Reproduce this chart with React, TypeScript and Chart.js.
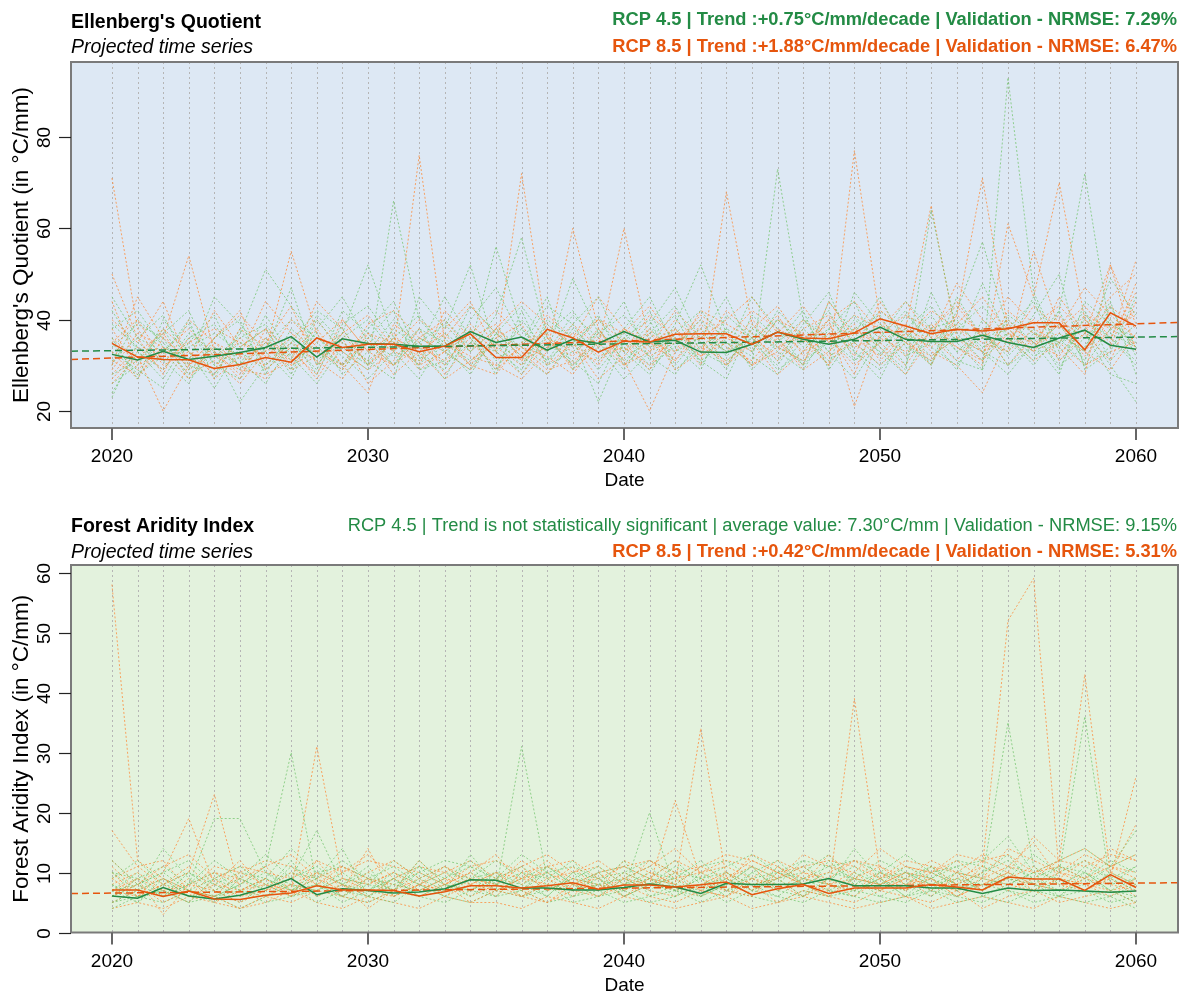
import React, { useEffect, useRef } from "react";
import { Chart, registerables } from "chart.js";
Chart.register(...registerables);

const FONT = '"Liberation Sans", Arial, sans-serif';

const years = [2020, 2021, 2022, 2023, 2024, 2025, 2026, 2027, 2028, 2029, 2030, 2031, 2032, 2033, 2034, 2035, 2036, 2037, 2038, 2039, 2040, 2041, 2042, 2043, 2044, 2045, 2046, 2047, 2048, 2049, 2050, 2051, 2052, 2053, 2054, 2055, 2056, 2057, 2058, 2059, 2060];
const decadeTicks = [2020, 2030, 2040, 2050, 2060];
const eqTicks = [20, 40, 60, 80];
const faiTicks = [0, 10, 20, 30, 40, 50, 60];

// ---------- Ellenberg's Quotient ----------
const eqMean45 = [32.4, 31.2, 33.1, 31.3, 32.0, 32.8, 33.9, 36.3, 31.8, 35.8, 34.8, 34.6, 34.2, 34.2, 37.4, 35.0, 36.2, 33.3, 35.7, 34.8, 37.4, 35.1, 35.5, 32.9, 32.8, 34.6, 37.3, 35.7, 34.6, 35.7, 38.4, 35.7, 35.2, 35.2, 36.6, 35.0, 33.9, 36.0, 37.7, 34.4, 33.5];
const eqMean85 = [34.8, 31.8, 31.3, 31.2, 29.3, 30.2, 31.7, 30.7, 36.0, 33.9, 34.6, 34.6, 33.0, 34.2, 36.9, 31.7, 31.7, 37.9, 36.0, 32.9, 35.3, 35.1, 36.8, 36.9, 36.9, 34.6, 37.3, 36.0, 35.8, 37.1, 40.2, 38.6, 36.9, 37.9, 37.5, 38.0, 39.3, 39.3, 33.4, 41.5, 38.6];
const eqTrend45 = [33.1, 36.3];
const eqTrend85 = [31.3, 39.4];

const eqG1 = [45, 36, 41, 30, 28, 37, 51, 43, 35, 30, 38, 44, 32, 29, 40, 47, 36, 31, 39, 45, 33, 28, 37, 42, 35, 30, 73, 40, 33, 27, 36, 44, 38, 31, 29, 93, 46, 34, 40, 36, 30];
const eqG2 = [24, 33, 27, 36, 39, 31, 26, 35, 42, 38, 30, 66, 40, 34, 28, 37, 43, 35, 31, 26, 38, 45, 34, 29, 41, 36, 31, 39, 46, 33, 27, 38, 43, 35, 48, 36, 31, 42, 72, 37, 34];
const eqG3 = [36, 27, 40, 33, 25, 34, 38, 29, 41, 35, 31, 27, 45, 38, 52, 33, 29, 40, 36, 22, 35, 42, 30, 37, 33, 45, 38, 30, 36, 41, 34, 29, 64, 37, 31, 40, 35, 28, 44, 39, 36];
const eqG4 = [30, 40, 35, 28, 33, 22, 30, 36, 28, 39, 43, 35, 30, 37, 33, 41, 58, 36, 30, 35, 29, 37, 43, 33, 30, 38, 35, 42, 29, 37, 45, 34, 31, 38, 43, 36, 30, 37, 33, 49, 41];
const eqG5 = [28, 31, 37, 42, 30, 35, 33, 27, 38, 45, 35, 30, 36, 33, 29, 37, 34, 43, 39, 31, 37, 32, 28, 36, 45, 33, 40, 35, 42, 31, 35, 38, 30, 45, 36, 33, 41, 50, 29, 33, 45];
const eqG6 = [33, 29, 25, 35, 41, 29, 35, 32, 26, 34, 30, 38, 34, 45, 36, 29, 40, 33, 49, 37, 41, 34, 36, 31, 27, 39, 33, 29, 38, 44, 32, 41, 36, 29, 40, 34, 45, 33, 37, 28, 26];
const eqG7 = [39, 34, 31, 26, 36, 40, 28, 38, 33, 29, 36, 42, 29, 31, 43, 37, 32, 28, 35, 40, 33, 39, 47, 35, 31, 36, 29, 33, 40, 35, 30, 36, 41, 33, 38, 30, 34, 39, 31, 43, 32];
const eqG8 = [31, 36, 33, 39, 30, 27, 34, 40, 36, 32, 27, 33, 38, 30, 35, 33, 38, 31, 36, 29, 36, 30, 34, 40, 32, 37, 34, 31, 35, 38, 41, 32, 35, 39, 34, 37, 32, 35, 38, 30, 22];
const eqG9 = [38, 42, 34, 31, 45, 39, 33, 47, 30, 37, 52, 36, 31, 40, 34, 56, 38, 33, 41, 36, 44, 31, 39, 52, 37, 33, 42, 36, 30, 46, 39, 35, 30, 42, 57, 38, 44, 31, 36, 40, 34];
const eqG10 = [26, 30, 38, 29, 34, 30, 41, 32, 37, 28, 33, 40, 34, 27, 38, 31, 35, 45, 29, 38, 31, 36, 41, 30, 38, 29, 35, 40, 36, 31, 38, 30, 46, 35, 29, 41, 37, 30, 34, 44, 28];
const eqG11 = [35, 28, 32, 40, 27, 38, 30, 35, 29, 42, 37, 30, 38, 35, 31, 36, 30, 39, 34, 41, 30, 38, 33, 36, 29, 41, 36, 30, 44, 37, 33, 28, 38, 40, 33, 30, 37, 35, 42, 31, 37];
const eqG12 = [42, 33, 29, 37, 33, 30, 36, 28, 40, 33, 29, 36, 41, 33, 37, 28, 42, 30, 38, 33, 36, 40, 29, 34, 38, 35, 30, 38, 33, 40, 36, 42, 34, 30, 37, 32, 38, 29, 41, 36, 31];
const eqG13 = [23, 35, 31, 34, 37, 33, 29, 34, 31, 36, 40, 33, 27, 36, 30, 35, 28, 37, 42, 34, 27, 33, 38, 31, 35, 32, 28, 36, 31, 35, 42, 37, 32, 36, 33, 28, 35, 42, 30, 38, 35];
const eqG14 = [34, 39, 36, 27, 32, 36, 39, 31, 34, 30, 35, 32, 35, 39, 33, 38, 34, 30, 33, 37, 34, 29, 35, 38, 33, 36, 40, 34, 38, 33, 29, 35, 39, 33, 36, 38, 33, 36, 30, 34, 39];

const eqO1 = [71, 38, 30, 33, 28, 36, 31, 40, 34, 29, 37, 33, 76, 35, 30, 38, 33, 28, 36, 40, 35, 29, 38, 33, 42, 37, 31, 36, 30, 77, 40, 35, 31, 39, 45, 37, 33, 40, 36, 43, 38];
const eqO2 = [30, 45, 36, 54, 33, 28, 36, 31, 44, 38, 30, 35, 32, 38, 44, 33, 72, 36, 30, 37, 33, 41, 36, 30, 68, 39, 34, 31, 37, 28, 42, 38, 35, 41, 71, 38, 33, 45, 37, 31, 44];
const eqO3 = [26, 32, 20, 30, 36, 42, 29, 34, 27, 36, 26, 31, 38, 28, 35, 30, 27, 33, 60, 38, 31, 20, 33, 38, 30, 35, 28, 33, 40, 21, 37, 32, 39, 34, 30, 61, 45, 70, 40, 35, 53];
const eqO4 = [38, 29, 34, 28, 31, 26, 33, 55, 37, 30, 36, 28, 33, 37, 30, 28, 35, 37, 29, 34, 60, 35, 31, 37, 33, 40, 35, 30, 44, 36, 32, 38, 65, 36, 31, 42, 37, 34, 28, 52, 39];
const eqO5 = [33, 27, 36, 31, 42, 34, 38, 30, 35, 40, 33, 37, 30, 42, 36, 39, 31, 38, 35, 30, 38, 33, 40, 35, 30, 38, 43, 35, 39, 32, 44, 36, 30, 41, 37, 33, 55, 38, 43, 36, 46];
const eqO6 = [28, 34, 29, 36, 27, 32, 30, 35, 31, 27, 35, 30, 34, 31, 36, 29, 34, 32, 28, 36, 33, 37, 31, 39, 34, 31, 38, 33, 36, 30, 35, 39, 33, 30, 24, 36, 40, 31, 37, 52, 33];
const eqO7 = [44, 30, 33, 27, 35, 30, 27, 33, 38, 30, 24, 39, 35, 30, 38, 33, 28, 35, 32, 38, 30, 35, 38, 32, 36, 33, 40, 37, 30, 38, 35, 30, 38, 44, 36, 40, 34, 39, 32, 38, 41];
const eqO8 = [36, 31, 38, 33, 29, 38, 34, 29, 32, 35, 31, 36, 29, 33, 39, 34, 30, 36, 33, 31, 36, 32, 35, 41, 37, 30, 33, 40, 35, 39, 31, 37, 34, 38, 33, 39, 35, 32, 40, 34, 48];
const eqO9 = [40, 35, 44, 30, 36, 41, 35, 43, 30, 37, 41, 34, 40, 36, 43, 37, 32, 41, 36, 45, 38, 34, 42, 36, 40, 45, 37, 43, 35, 41, 38, 44, 36, 48, 40, 35, 43, 38, 47, 41, 36];
const eqO10 = [27, 33, 37, 29, 33, 27, 38, 33, 28, 40, 33, 30, 36, 33, 29, 36, 39, 30, 35, 27, 32, 38, 29, 33, 37, 30, 36, 29, 33, 38, 34, 28, 36, 31, 38, 30, 36, 41, 33, 29, 37];
const eqO11 = [50, 36, 28, 40, 35, 32, 44, 37, 33, 30, 39, 42, 36, 40, 33, 38, 44, 39, 34, 40, 37, 43, 35, 40, 36, 42, 38, 35, 40, 44, 37, 41, 38, 43, 36, 45, 39, 43, 37, 45, 50];
const eqO12 = [31, 28, 33, 38, 32, 29, 28, 31, 36, 33, 29, 33, 31, 35, 32, 30, 34, 29, 31, 35, 30, 33, 36, 32, 35, 30, 34, 37, 32, 35, 30, 35, 32, 36, 33, 36, 31, 35, 30, 33, 35];
const eqO13 = [35, 40, 31, 35, 38, 35, 32, 36, 40, 33, 37, 35, 30, 33, 37, 42, 36, 33, 39, 34, 38, 35, 33, 42, 39, 36, 32, 38, 41, 35, 39, 36, 42, 38, 35, 33, 38, 35, 41, 38, 42];
const eqO14 = [29, 37, 34, 30, 34, 30, 35, 30, 33, 37, 30, 36, 33, 27, 31, 35, 31, 34, 37, 32, 34, 30, 37, 34, 31, 35, 41, 32, 37, 34, 36, 33, 37, 34, 31, 37, 35, 37, 33, 40, 34];

// ---------- Forest Aridity Index ----------
const faiMean45 = [6.1, 5.7, 7.5, 6.1, 5.6, 6.2, 7.4, 9.0, 6.3, 7.3, 7.0, 6.6, 6.75, 7.3, 8.8, 8.7, 7.4, 7.4, 7.1, 7.1, 7.5, 8.1, 7.6, 6.5, 8.2, 8.0, 8.0, 8.1, 9.0, 7.8, 7.8, 7.8, 7.4, 7.4, 6.5, 7.4, 7.0, 7.1, 6.9, 6.7, 6.9];
const faiMean85 = [7.1, 7.1, 6.0, 6.9, 5.6, 5.5, 6.2, 6.6, 7.8, 7.1, 7.1, 7.0, 6.1, 6.8, 7.8, 7.8, 7.4, 7.8, 8.3, 7.2, 7.9, 7.9, 7.6, 7.95, 8.4, 6.3, 7.3, 8.0, 6.5, 7.4, 7.4, 7.4, 8.0, 7.6, 7.1, 9.25, 8.9, 8.9, 7.0, 9.65, 7.5];
const faiTrend85 = [6.5, 8.3];

const faiG1 = [10, 7, 14, 9, 6, 8, 11, 30, 8, 6, 9, 7, 12, 8, 6, 9, 11, 8, 7, 10, 6, 8, 9, 6, 10, 7, 9, 6, 12, 8, 7, 10, 8, 6, 9, 35, 11, 8, 10, 7, 6];
const faiG2 = [6, 9, 6, 8, 19, 19, 10, 7, 9, 14, 6, 8, 7, 9, 11, 7, 31, 9, 6, 8, 7, 20, 7, 9, 6, 10, 8, 12, 7, 9, 6, 8, 11, 7, 8, 9, 7, 10, 36, 8, 9];
const faiG3 = [8, 6, 7, 5, 9, 7, 6, 9, 17, 8, 11, 6, 9, 7, 10, 8, 7, 11, 8, 6, 9, 7, 10, 6, 8, 11, 7, 9, 8, 14, 9, 6, 10, 8, 7, 11, 9, 7, 8, 11, 17];
const faiG4 = [5, 7, 9, 6, 7, 5, 8, 6, 7, 10, 7, 9, 6, 8, 7, 10, 6, 7, 9, 8, 12, 6, 8, 7, 9, 6, 11, 8, 6, 10, 8, 7, 9, 11, 6, 8, 10, 6, 9, 7, 5];
const faiG5 = [7, 5, 8, 7, 5, 9, 7, 12, 6, 8, 7, 10, 8, 6, 9, 7, 9, 6, 10, 7, 8, 9, 6, 10, 7, 8, 6, 9, 7, 6, 10, 8, 6, 9, 8, 7, 6, 9, 7, 6, 8];
const faiG6 = [4, 6, 5, 7, 6, 4, 6, 8, 5, 7, 6, 5, 8, 6, 5, 7, 6, 8, 5, 6, 7, 5, 6, 8, 5, 7, 6, 5, 7, 6, 5, 6, 7, 5, 6, 5, 7, 6, 5, 6, 4];
const faiG7 = [12, 8, 10, 7, 9, 11, 8, 10, 9, 6, 8, 12, 9, 11, 8, 6, 10, 9, 12, 7, 10, 8, 11, 9, 7, 10, 12, 8, 10, 9, 8, 11, 9, 7, 10, 13, 8, 11, 9, 12, 10];
const faiG8 = [6, 8, 6, 10, 8, 6, 9, 7, 8, 5, 7, 9, 6, 7, 13, 8, 7, 10, 7, 9, 6, 8, 7, 6, 8, 9, 7, 6, 9, 7, 9, 6, 8, 10, 7, 9, 8, 6, 10, 7, 9];
const faiG9 = [9, 12, 8, 10, 7, 9, 13, 9, 11, 8, 10, 7, 11, 9, 12, 8, 10, 7, 9, 11, 8, 10, 9, 12, 8, 11, 9, 10, 13, 8, 10, 9, 11, 8, 10, 12, 9, 11, 10, 8, 11];
const faiG10 = [7, 10, 6, 8, 10, 7, 9, 7, 10, 8, 6, 9, 11, 7, 9, 10, 8, 6, 10, 9, 7, 9, 12, 8, 9, 7, 10, 8, 9, 11, 8, 9, 7, 10, 9, 8, 10, 9, 7, 10, 8];
const faiG11 = [8, 5, 9, 7, 6, 8, 10, 8, 7, 9, 8, 7, 10, 8, 7, 9, 8, 10, 7, 8, 9, 11, 7, 9, 10, 8, 9, 11, 8, 7, 9, 10, 8, 9, 7, 10, 8, 7, 11, 9, 7];
const faiG12 = [10, 9, 11, 8, 12, 9, 7, 11, 9, 12, 9, 11, 8, 10, 9, 12, 9, 11, 8, 10, 11, 9, 8, 11, 12, 9, 10, 12, 11, 9, 12, 10, 9, 12, 11, 9, 13, 10, 12, 9, 11];
const faiG13 = [5, 6, 7, 5, 6, 7, 5, 6, 8, 6, 5, 7, 6, 5, 7, 6, 7, 5, 6, 7, 5, 6, 7, 5, 7, 6, 5, 7, 6, 7, 6, 5, 7, 6, 5, 7, 5, 6, 7, 5, 6];
const faiG14 = [7, 8, 10, 12, 8, 10, 9, 14, 10, 11, 9, 8, 10, 12, 11, 9, 13, 10, 11, 9, 10, 12, 10, 9, 11, 13, 10, 9, 11, 12, 10, 13, 10, 11, 12, 16, 10, 12, 14, 11, 13];

const faiO1 = [58, 12, 9, 7, 6, 10, 8, 7, 31, 9, 7, 6, 8, 10, 7, 9, 6, 8, 11, 7, 9, 8, 22, 9, 7, 6, 10, 8, 7, 39, 10, 7, 9, 6, 8, 10, 7, 9, 8, 6, 9];
const faiO2 = [17, 11, 8, 10, 23, 7, 9, 6, 10, 8, 6, 9, 7, 8, 10, 7, 9, 8, 6, 10, 7, 9, 8, 34, 9, 7, 11, 8, 6, 9, 8, 10, 7, 9, 11, 52, 59, 10, 8, 9, 26];
const faiO3 = [7, 9, 3, 8, 7, 5, 7, 9, 6, 8, 4, 7, 9, 6, 8, 10, 7, 5, 8, 9, 6, 8, 10, 7, 6, 9, 7, 10, 8, 6, 9, 7, 11, 8, 10, 7, 9, 12, 43, 10, 8];
const faiO4 = [9, 6, 10, 19, 8, 12, 7, 10, 8, 11, 9, 7, 12, 8, 10, 13, 8, 11, 9, 7, 12, 10, 8, 11, 9, 12, 10, 8, 13, 9, 11, 8, 10, 12, 9, 11, 15, 9, 12, 10, 18];
const faiO5 = [6, 8, 5, 7, 6, 4, 6, 5, 7, 6, 5, 7, 6, 8, 5, 7, 6, 5, 7, 6, 8, 6, 5, 7, 6, 8, 5, 7, 6, 5, 7, 6, 5, 7, 4, 6, 7, 5, 6, 7, 5];
const faiO6 = [11, 7, 9, 6, 10, 8, 11, 13, 9, 7, 10, 12, 9, 11, 8, 10, 9, 12, 8, 10, 11, 9, 12, 10, 8, 13, 11, 9, 10, 12, 9, 11, 10, 8, 12, 13, 10, 11, 9, 14, 12];
const faiO7 = [5, 7, 6, 9, 5, 7, 8, 6, 12, 7, 14, 6, 8, 7, 9, 6, 10, 7, 8, 6, 9, 7, 6, 8, 10, 7, 9, 6, 8, 10, 7, 9, 6, 10, 7, 9, 11, 8, 7, 9, 6];
const faiO8 = [8, 10, 7, 5, 9, 6, 7, 8, 10, 6, 9, 8, 7, 9, 6, 8, 11, 7, 9, 8, 7, 10, 8, 6, 9, 11, 7, 9, 8, 7, 10, 8, 9, 6, 8, 10, 8, 7, 9, 8, 7];
const faiO9 = [12, 8, 11, 13, 9, 11, 10, 9, 12, 10, 13, 9, 11, 10, 12, 9, 11, 13, 10, 12, 9, 11, 14, 10, 12, 11, 9, 13, 11, 10, 14, 11, 10, 13, 12, 10, 16, 12, 14, 11, 13];
const faiO10 = [6, 9, 7, 8, 10, 9, 6, 8, 7, 9, 8, 10, 7, 9, 8, 7, 9, 10, 8, 7, 10, 8, 9, 7, 10, 8, 9, 11, 8, 9, 8, 10, 9, 7, 11, 9, 8, 10, 9, 11, 9];
const faiO11 = [10, 6, 8, 11, 7, 9, 11, 7, 9, 11, 8, 10, 8, 11, 9, 8, 12, 9, 10, 11, 8, 12, 9, 10, 11, 9, 12, 10, 9, 12, 11, 9, 12, 10, 9, 14, 12, 10, 13, 11, 10];
const faiO12 = [4, 5, 4, 6, 5, 4, 5, 7, 5, 4, 6, 5, 4, 6, 5, 5, 4, 6, 5, 4, 6, 5, 4, 5, 6, 4, 5, 6, 5, 4, 5, 6, 4, 5, 6, 5, 4, 6, 5, 4, 5];
const faiO13 = [9, 11, 12, 7, 11, 10, 12, 11, 8, 10, 12, 11, 10, 8, 11, 12, 10, 11, 12, 9, 11, 12, 10, 11, 13, 12, 10, 11, 12, 11, 9, 12, 11, 10, 13, 11, 10, 12, 11, 13, 12];
const faiO14 = [7, 6, 8, 6, 8, 7, 9, 6, 8, 7, 9, 6, 8, 7, 9, 8, 6, 9, 7, 8, 6, 9, 7, 8, 7, 9, 8, 6, 9, 8, 7, 9, 8, 7, 9, 8, 7, 9, 8, 7, 8];

const xRange = [2018.4, 2061.64];

const GREEN = "#238b45";
const ORANGE = "#e6550d";
const GREEN_LIGHT = "rgba(116,196,110,0.75)";
const ORANGE_LIGHT = "rgba(253,141,60,0.78)";

type Annot = { text: string; color: string; bold: boolean; y: number };
type PanelCfg = {
  title: string;
  subtitle: string;
  yTitle: string;
  bg: string;
  yMin: number;
  yMax: number;
  yTicks: number[];
  padding: { left: number; right: number; top: number; bottom: number };
  titleY: number;
  subY: number;
  annots: Annot[];
  members45: number[][];
  members85: number[][];
  mean45: number[];
  mean85: number[];
  trend45: number[] | null;
  trend85: number[] | null;
};

const panels: PanelCfg[] = [
  {
    title: "Ellenberg's Quotient",
    subtitle: "Projected time series",
    yTitle: "Ellenberg's Quotient (in °C/mm)",
    bg: "#dde8f4",
    yMin: 16.28,
    yMax: 96.42,
    yTicks: eqTicks,
    padding: { left: 71, right: 2, top: 62, bottom: 69 },
    titleY: 28,
    subY: 53,
    annots: [
      { text: "RCP 4.5 | Trend :+0.75°C/mm/decade | Validation - NRMSE: 7.29%", color: GREEN, bold: true, y: 25 },
      { text: "RCP 8.5 | Trend :+1.88°C/mm/decade | Validation - NRMSE: 6.47%", color: ORANGE, bold: true, y: 52 },
    ],
    members45: [eqG1, eqG2, eqG3, eqG4, eqG5, eqG6, eqG7, eqG8, eqG9, eqG10, eqG11, eqG12, eqG13, eqG14],
    members85: [eqO1, eqO2, eqO3, eqO4, eqO5, eqO6, eqO7, eqO8, eqO9, eqO10, eqO11, eqO12, eqO13, eqO14],
    mean45: eqMean45,
    mean85: eqMean85,
    trend45: eqTrend45,
    trend85: eqTrend85,
  },
  {
    title: "Forest Aridity Index",
    subtitle: "Projected time series",
    yTitle: "Forest Aridity Index (in °C/mm)",
    bg: "#e3f2dd",
    yMin: 0,
    yMax: 61.25,
    yTicks: faiTicks,
    padding: { left: 71, right: 2, top: 68, bottom: 61.5 },
    titleY: 35,
    subY: 61,
    annots: [
      { text: "RCP 4.5 | Trend is not statistically significant | average value: 7.30°C/mm | Validation - NRMSE: 9.15%", color: GREEN, bold: false, y: 34 },
      { text: "RCP 8.5 | Trend :+0.42°C/mm/decade | Validation - NRMSE: 5.31%", color: ORANGE, bold: true, y: 60 },
    ],
    members45: [faiG1, faiG2, faiG3, faiG4, faiG5, faiG6, faiG7, faiG8, faiG9, faiG10, faiG11, faiG12, faiG13, faiG14],
    members85: [faiO1, faiO2, faiO3, faiO4, faiO5, faiO6, faiO7, faiO8, faiO9, faiO10, faiO11, faiO12, faiO13, faiO14],
    mean45: faiMean45,
    mean85: faiMean85,
    trend45: null,
    trend85: faiTrend85,
  },
];

function toXY(vals: number[]) {
  return vals.slice(0, years.length).map((v, i) => ({ x: years[i], y: v }));
}

function Panel({ cfg }: { cfg: PanelCfg }) {
  const ref = useRef<HTMLCanvasElement | null>(null);
  useEffect(() => {
    if (!ref.current) return;
    const datasets: any[] = [];
    const n = Math.max(cfg.members45.length, cfg.members85.length);
    for (let i = 0; i < n; i++) {
      if (cfg.members45[i])
        datasets.push({ data: toXY(cfg.members45[i]), borderColor: GREEN_LIGHT, borderWidth: 1, borderDash: [2, 2], pointRadius: 0, order: 3 });
      if (cfg.members85[i])
        datasets.push({ data: toXY(cfg.members85[i]), borderColor: ORANGE_LIGHT, borderWidth: 1, borderDash: [2, 2], pointRadius: 0, order: 3 });
    }
    if (cfg.trend45)
      datasets.push({ data: [{ x: xRange[0], y: cfg.trend45[0] }, { x: xRange[1], y: cfg.trend45[1] }], borderColor: GREEN, borderWidth: 1.5, borderDash: [7, 4], pointRadius: 0, order: 2 });
    if (cfg.trend85)
      datasets.push({ data: [{ x: xRange[0], y: cfg.trend85[0] }, { x: xRange[1], y: cfg.trend85[1] }], borderColor: ORANGE, borderWidth: 1.5, borderDash: [7, 4], pointRadius: 0, order: 2 });
    datasets.push({ data: toXY(cfg.mean85), borderColor: ORANGE, borderWidth: 1.5, pointRadius: 0, order: 1 });
    datasets.push({ data: toXY(cfg.mean45), borderColor: GREEN, borderWidth: 1.5, pointRadius: 0, order: 1 });

    const decor = {
      id: "rdecor",
      beforeDatasetsDraw(chart: any) {
        const { ctx, chartArea: a, scales } = chart;
        const x = scales.x;
        ctx.save();
        ctx.fillStyle = cfg.bg;
        ctx.fillRect(a.left, a.top, a.right - a.left, a.bottom - a.top);
        ctx.strokeStyle = "#b5b5b5";
        ctx.lineWidth = 1;
        ctx.setLineDash([2, 3]);
        for (const yr of years) {
          const px = Math.round(x.getPixelForValue(yr)) + 0.5;
          ctx.beginPath();
          ctx.moveTo(px, a.top);
          ctx.lineTo(px, a.bottom);
          ctx.stroke();
        }
        ctx.restore();
      },
      afterDraw(chart: any) {
        const { ctx, chartArea: a, scales } = chart;
        const x = scales.x;
        const y = scales.y;
        ctx.save();
        ctx.strokeStyle = "#7a7a7a";
        ctx.lineWidth = 2;
        ctx.setLineDash([]);
        ctx.strokeRect(a.left, a.top, a.right - a.left, a.bottom - a.top);
        ctx.fillStyle = "#000";
        ctx.font = `19px ${FONT}`;
        ctx.textAlign = "center";
        ctx.textBaseline = "middle";
        for (const t of decadeTicks) {
          const px = Math.round(x.getPixelForValue(t));
          ctx.strokeStyle = "#666";
          ctx.lineWidth = 2;
          ctx.beginPath();
          ctx.moveTo(px, a.bottom);
          ctx.lineTo(px, a.bottom + 12);
          ctx.stroke();
          ctx.fillText(String(t), px, a.bottom + 29);
        }
        for (const t of cfg.yTicks) {
          const py = Math.round(y.getPixelForValue(t)) + 0.5;
          ctx.strokeStyle = "#222";
          ctx.lineWidth = 1.2;
          ctx.beginPath();
          ctx.moveTo(a.left - 12, py);
          ctx.lineTo(a.left, py);
          ctx.stroke();
          ctx.save();
          ctx.translate(45, py);
          ctx.rotate(-Math.PI / 2);
          ctx.fillText(String(t), 0, 0);
          ctx.restore();
        }
        ctx.font = `19px ${FONT}`;
        ctx.fillText("Date", (a.left + a.right) / 2, a.bottom + 53);
        ctx.save();
        ctx.translate(22, (a.top + a.bottom) / 2);
        ctx.rotate(-Math.PI / 2);
        ctx.font = `22.5px ${FONT}`;
        ctx.fillText(cfg.yTitle, 0, 0);
        ctx.restore();
        ctx.textAlign = "left";
        ctx.textBaseline = "alphabetic";
        ctx.font = `bold 19.5px ${FONT}`;
        ctx.fillText(cfg.title, 71, cfg.titleY);
        ctx.font = `italic 19.5px ${FONT}`;
        ctx.fillText(cfg.subtitle, 71, cfg.subY);
        ctx.textAlign = "right";
        for (const an of cfg.annots) {
          ctx.font = `${an.bold ? "bold " : ""}18.3px ${FONT}`;
          ctx.fillStyle = an.color;
          ctx.fillText(an.text, 1177, an.y);
        }
        ctx.restore();
      },
    };

    const chart = new Chart(ref.current, {
      type: "line",
      data: { datasets },
      options: {
        animation: false,
        responsive: false,
        devicePixelRatio: 1,
        layout: { padding: cfg.padding },
        plugins: { legend: { display: false }, tooltip: { enabled: false }, title: { display: false } },
        scales: {
          x: { type: "linear", display: false, min: xRange[0], max: xRange[1] },
          y: { type: "linear", display: false, min: cfg.yMin, max: cfg.yMax },
        },
      },
      plugins: [decor],
    });
    return () => chart.destroy();
  }, [cfg]);
  return <canvas ref={ref} width={1180} height={497} style={{ display: "block", width: 1180, height: 497 }} />;
}

export default function App() {
  return (
    <div style={{ position: "absolute", left: 0, top: 0, width: 1180, height: 994, background: "#fff" }}>
      <Panel cfg={panels[0]} />
      <Panel cfg={panels[1]} />
    </div>
  );
}
